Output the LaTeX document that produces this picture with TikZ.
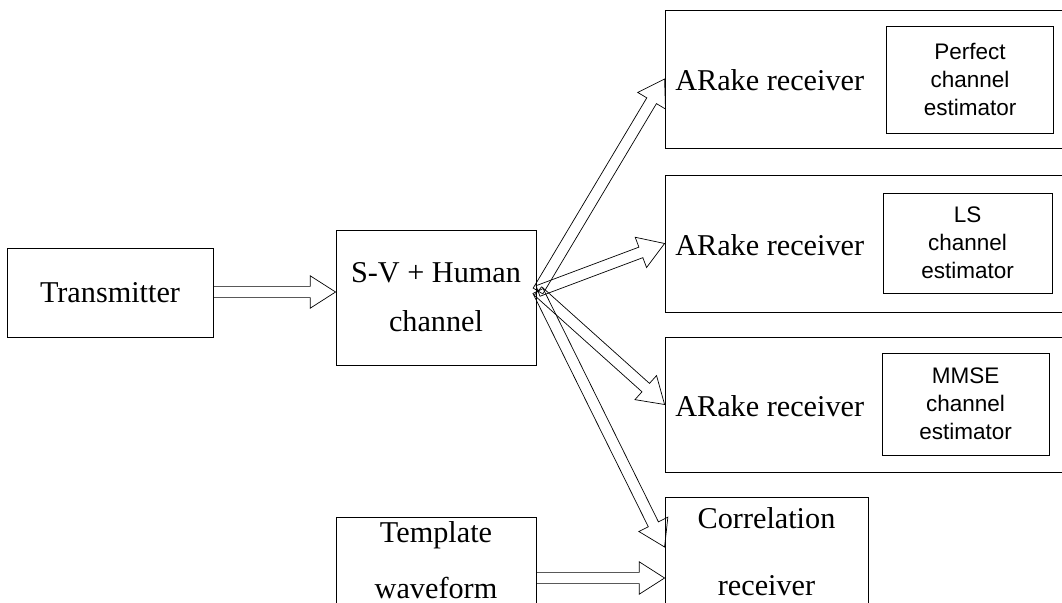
\documentclass[tikz,border=0pt]{standalone}
\usepackage{fontspec}
\setmainfont{Liberation Serif}
\newfontfamily\estfont{Liberation Sans}
\usetikzlibrary{calc}

% hollow block arrow from #1 to #2 (shaft half-width, head half-width, head length)
\newcommand\blockarrow[2]{%
  \coordinate (ba-c) at ($(#2)!18pt!(#1)$);
  \draw[arrowline]
    ($(#1)!4pt!90:(#2)$) --
    ($(ba-c)!4pt!90:(#2)$) --
    ($(ba-c)!11.5pt!90:(#2)$) --
    (#2) --
    ($(ba-c)!11.5pt!-90:(#2)$) --
    ($(ba-c)!4pt!-90:(#2)$) --
    ($(#1)!4pt!-90:(#2)$) -- cycle;
}

\begin{document}
\begin{tikzpicture}[x=0.025cm,y=-0.025cm,
  box/.style={draw, line width=0.6pt, inner sep=0pt, align=center,
    font=\fontsize{21.5}{35}\selectfont},
  frame/.style={draw, line width=0.6pt, inner sep=0pt},
  label/.style={inner sep=0pt, font=\fontsize{21.5}{26}\selectfont},
  estbox/.style={draw, line width=0.6pt, inner sep=0pt, align=center,
    font=\estfont\fontsize{16}{20}\selectfont},
  arrowline/.style={line width=0.5pt, line join=miter}]
\useasboundingbox (0,0) rectangle (1062,603);
\clip (0,0) rectangle (1062,603);

% main blocks
\node[box, minimum width=206*0.025cm, minimum height=89*0.025cm]
  (tx) at (110,292.5) {Transmitter};
\node[box, minimum width=200*0.025cm, minimum height=135*0.025cm]
  (ch) at (436,297.5) {S-V + Human\\channel};

% receiver blocks (right edges run past the border)
\node[frame, minimum width=405*0.025cm, minimum height=138*0.025cm]
  (r1) at (867.5,79) {};
\node[frame, minimum width=405*0.025cm, minimum height=137*0.025cm]
  (r2) at (867.5,243.5) {};
\node[frame, minimum width=405*0.025cm, minimum height=135*0.025cm]
  (r3) at (867.5,404.5) {};
\node[label, anchor=west] (r1t) at (675,80) {ARake receiver};
\node[label, anchor=west] (r2t) at (675,245) {ARake receiver};
\node[label, anchor=west] (r3t) at (675,406) {ARake receiver};

% channel estimators
\node[estbox, minimum width=167*0.025cm, minimum height=107*0.025cm]
  (e1) at (970,79.5) {Perfect\\channel\\estimator};
\node[estbox, minimum width=169*0.025cm, minimum height=100*0.025cm]
  (e2) at (967.5,243) {LS\\channel\\estimator};
\node[estbox, minimum width=167*0.025cm, minimum height=102*0.025cm]
  (e3) at (965.5,404) {MMSE\\channel\\estimator};

% correlation branch (bottom edges run past the border)
\node[frame, minimum width=203*0.025cm, minimum height=126*0.025cm]
  (corr) at (766.5,560) {};
\node[label] (corrt1) at (766.5,518) {Correlation};
\node[label] (corrt2) at (766.5,586) {receiver};
\node[frame, minimum width=200*0.025cm, minimum height=110*0.025cm]
  (tmpl) at (436,572) {};
\node[label] (tmplt1) at (436,535) {Template};
\node[label] (tmplt2) at (436,588) {waveform};

% connectors
\coordinate (fan) at (538,291);
\coordinate (txout) at (tx.east |- 0,292);
\coordinate (chin) at (ch.west |- 0,292);
\coordinate (corrin) at (corr.west |- 0,547);
\coordinate (tmplout) at (tmpl.east |- 0,578);
\coordinate (corrtin) at (corr.west |- 0,578);

\blockarrow{txout}{chin}
\blockarrow{fan}{r1.west}
\blockarrow{fan}{r2.west}
\blockarrow{fan}{r3.west}
\blockarrow{fan}{corrin}
\blockarrow{tmplout}{corrtin}
\end{tikzpicture}
\end{document}
